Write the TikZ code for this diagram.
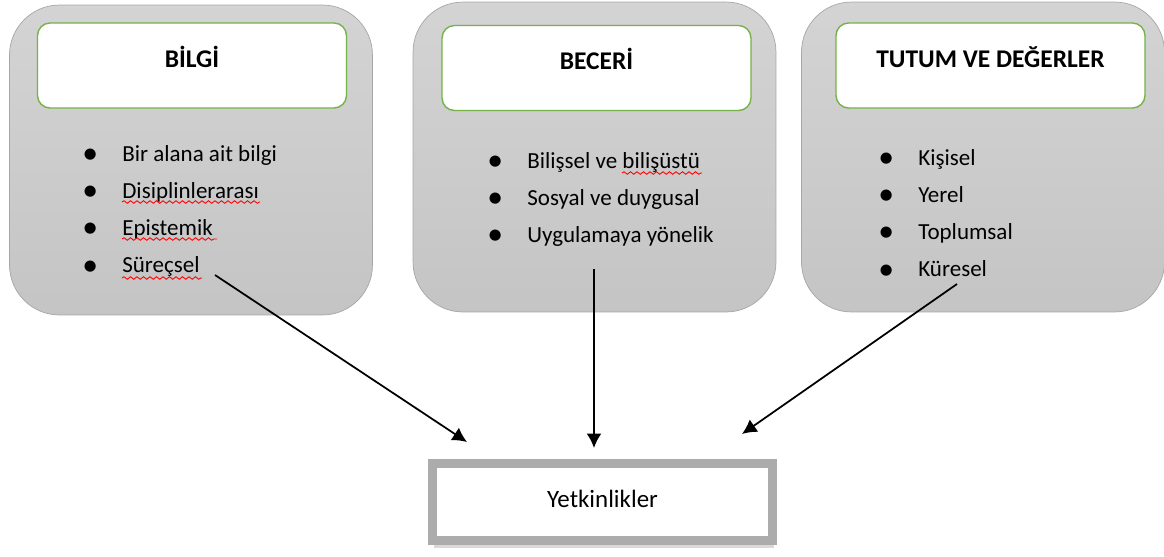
\documentclass[tikz,border=0pt]{standalone}
\usepackage{fontspec}
\setmainfont{Carlito}
\usetikzlibrary{shapes}
\usetikzlibrary{arrows.meta}
\usetikzlibrary{shadows}
\usetikzlibrary{decorations.pathmorphing}
\definecolor{leafgreen}{RGB}{118,178,72}
\newcommand{\dotmark}{\raisebox{-1.5pt}{\fontsize{18}{18}\selectfont\textbullet}}
\tikzset{
  outerbox/.style={draw=gray!70, top color=gray!34, bottom color=gray!46, rounded corners=1cm,
    minimum width=7.26cm, minimum height=6.2cm},
  headbox/.style={draw=leafgreen, line width=0.8pt, fill=white, rounded corners=0.25cm,
    minimum width=6.18cm, minimum height=1.7cm, text height=0.33cm, text depth=0.27cm,
    font=\fontsize{14.5}{17}\selectfont\bfseries},
  itemlist/.style={anchor=base west, inner sep=0pt, font=\fontsize{13.1}{21.15}\selectfont},
  squiggle/.style={draw=red, line width=0.5pt, decorate,
    decoration={snake, amplitude=0.025cm, segment length=0.13cm}},
  flow/.style={-{Latex[length=0.29cm,width=0.3cm]}, line width=1pt}
}

\begin{document}
\begin{tikzpicture}[x=0.02cm, y=-0.02cm]
		\useasboundingbox (0,0) rectangle (1164,556);
		
		\node (b0) at (191,160) [outerbox] {};
		\node (b1) at (594.5,157) [outerbox] {};
		\node (b2) at (983,157) [outerbox] {};
		
		\node (h0) at (192,65.5) [headbox] {BİLGİ};
		\node (h1) at (596.5,68) [headbox] {BECERİ};
		\node (h2) at (990.5,65.5) [headbox] {TUTUM VE DEĞERLER};
		
		\node (l0) at (82,161) [itemlist] {\begin{tabular}[t]{@{}p{0.8cm}@{}l@{}}
			\dotmark & Bir alana ait bilgi \\
			\dotmark & Disiplinlerarası \\
			\dotmark & Epistemik \\
			\dotmark & Süreçsel \\
			\end{tabular}};
		\node (l1) at (487,168) [itemlist] {\begin{tabular}[t]{@{}p{0.8cm}@{}l@{}}
			\dotmark & Bilişsel ve bilişüstü \\
			\dotmark & Sosyal ve duygusal \\
			\dotmark & Uygulamaya yönelik \\
			\end{tabular}};
		\node (l2) at (878,165) [itemlist] {\begin{tabular}[t]{@{}p{0.8cm}@{}l@{}}
			\dotmark & Kişisel \\
			\dotmark & Yerel \\
			\dotmark & Toplumsal \\
			\dotmark & Küresel \\
			\end{tabular}};
		
		\draw[squiggle] (122,202) -- (260,202);
		\draw[squiggle] (122,239) -- (217,239);
		\draw[squiggle] (122,278) -- (202,278);
		\draw[squiggle] (622,173) -- (702,173);
		
		\node (yet) at (602.5,501.75) [draw=gray!65, line width=0.18cm, fill=white,
			minimum width=6.8cm, minimum height=1.53cm, text height=0.36cm, text depth=0.15cm,
			drop shadow={shadow xshift=0.03cm, shadow yshift=-0.16cm, opacity=0.3},
			font=\fontsize{14.2}{17}\selectfont] {Yetkinlikler};
		
		\coordinate (s0) at (215,275);
		\coordinate (t0) at (467,442);
		\coordinate (s1) at (594,269);
		\coordinate (t1) at (594,448);
		\coordinate (s2) at (957,284);
		\coordinate (t2) at (742,434);
		
		\draw[flow] (s0) -- (t0);
		\draw[flow] (s1) -- (t1);
		\draw[flow] (s2) -- (t2);
	\end{tikzpicture}
\end{document}
